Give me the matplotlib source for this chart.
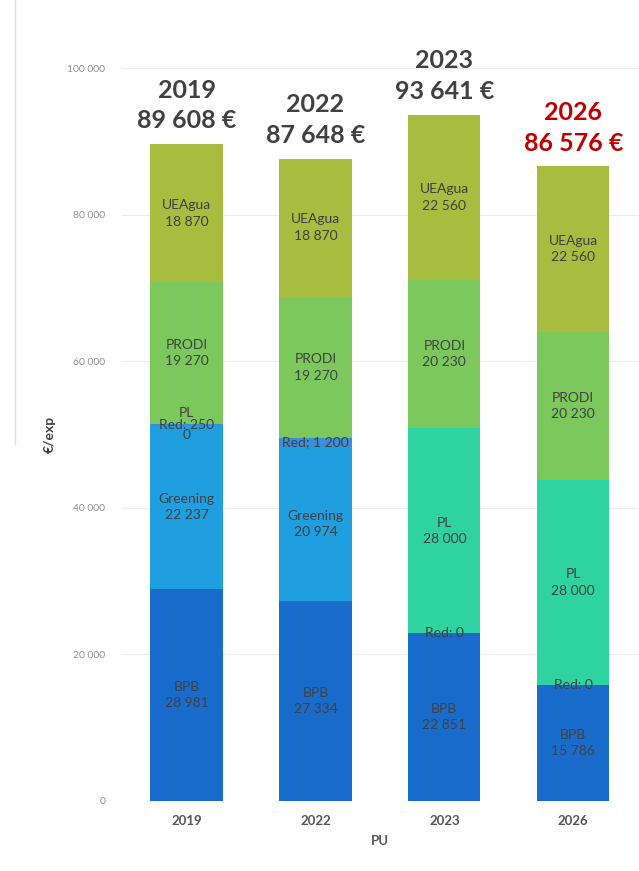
import matplotlib
matplotlib.use("Agg")
import matplotlib.pyplot as plt
import numpy as np

plt.rcParams['font.family'] = ['Lato', 'DejaVu Sans']

years = ["2019", "2022", "2023", "2026"]
totals = [89608, 87648, 93641, 86576]
total_labels = ["2019\n89 608 €", "2022\n87 648 €", "2023\n93 641 €", "2026\n86 576 €"]

# stacked components, bottom to top
bpb = [28981, 27334, 22851, 15786]
greening = [22237, 20974, 0, 0]
red = [250, 1200, 0, 0]
pl = [0, 0, 28000, 28000]
prodi = [19270, 19270, 20230, 20230]
ueagua = [18870, 18870, 22560, 22560]

bpb_txt = ["BPB\n28 981", "BPB\n27 334", "BPB\n22 851", "BPB\n15 786"]
greening_txt = ["Greening\n22 237", "Greening\n20 974", None, None]
red_txt = ["Red: 250", "Red; 1 200", "Red: 0", "Red: 0"]
pl_txt = ["PL\n0", None, "PL\n28 000", "PL\n28 000"]
prodi_txt = ["PRODI\n19 270", "PRODI\n19 270", "PRODI\n20 230", "PRODI\n20 230"]
ueagua_txt = ["UEAgua\n18 870", "UEAgua\n18 870", "UEAgua\n22 560", "UEAgua\n22 560"]

series = [
    (bpb, bpb_txt, "#1a6ccc"),
    (greening, greening_txt, "#1f9ee0"),
    (red, red_txt, "#3a8fd8"),
    (pl, pl_txt, "#2ed3a0"),
    (prodi, prodi_txt, "#7dc85c"),
    (ueagua, ueagua_txt, "#a8bc40"),
]

fig = plt.figure(figsize=(6.39, 8.71), dpi=100)
ax = fig.add_axes([0.191, 0.0804, 0.807, 0.8415])

x = np.arange(len(years))
bottom = np.zeros(len(years))
txt_color = "#404040"
for vals, labels, col in series:
    vals = np.array(vals, dtype=float)
    ax.bar(x, vals, width=0.56, bottom=bottom, color=col, zorder=2)
    for i, lab in enumerate(labels):
        if lab is None:
            continue
        yc = bottom[i] + vals[i] / 2
        ls = 1.45
        if vals[i] == 0 and "\n" in lab:
            ls = 2.0  # zero-height PL segment: lines straddle the Red label
        ax.text(x[i], yc, lab, ha="center", va="center", fontsize=10,
                color=txt_color, linespacing=ls, zorder=3)
    bottom += vals

for i, lab in enumerate(total_labels):
    c = "#c00000" if i == len(total_labels) - 1 else "#404040"
    ax.text(x[i], totals[i] + 1600, lab, ha="center", va="bottom", fontsize=18,
            fontweight="bold", color=c, linespacing=1.4, clip_on=False)

ax.set_xlim(-0.5, 3.5)
ax.set_ylim(0, 100000)
ax.set_yticks(np.arange(0, 100001, 20000))
ax.set_yticklabels(["0", "20 000", "40 000", "60 000", "80 000", "100 000"])
ax.set_xticks(x)
ax.set_xticklabels(years)
ax.tick_params(axis="y", length=0, labelsize=7.5, labelcolor="#909090", pad=12)
ax.tick_params(axis="x", length=0, labelsize=9.5, labelcolor="#555555", pad=10)
for lbl in ax.get_xticklabels():
    lbl.set_fontweight("bold")
ax.grid(axis="y", color="#ececec", linewidth=0.8, zorder=0)
for s in ax.spines.values():
    s.set_visible(False)
ax.set_xlabel("PU", fontsize=9.5, color="#555555", fontweight="bold", labelpad=6)
ax.set_ylabel("€/exp", fontsize=10, color="#404040", fontweight="bold", labelpad=8)

fig.add_artist(plt.Line2D([0.024, 0.024], [0.49, 1.0], color="#e0e0e0", linewidth=1))

fig.savefig("out.png", dpi=100)
